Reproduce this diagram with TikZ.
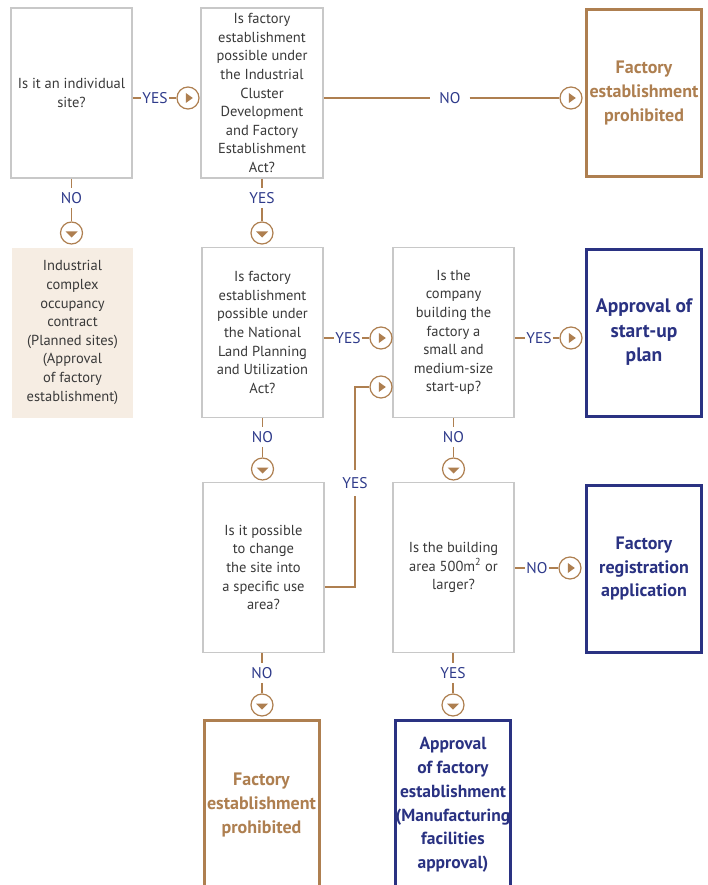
\documentclass[tikz,border=0pt]{standalone}
\usepackage{fontspec}
\setmainfont{PT Sans}
\definecolor{brn}{HTML}{AE7F50}
\definecolor{navyc}{HTML}{2A3282}
\definecolor{lblc}{HTML}{2E3A8A}
\definecolor{qgray}{HTML}{C8C8C8}
\definecolor{txt}{HTML}{3A3A3A}
\definecolor{beige}{HTML}{F6EDE3}
\begin{document}
\begin{tikzpicture}[x=1pt,y=-1pt,
 qbox/.style={draw=qgray, line width=1.5pt, fill=white, minimum width=121pt, minimum height=170pt, inner sep=0pt, align=center, text=txt, font=\fontsize{14.5}{18.6}\selectfont},
 infobox/.style={qbox, draw=none, fill=beige},
 endbrn/.style={draw=brn, line width=3pt, fill=white, minimum width=115pt, minimum height=167pt, inner sep=0pt, align=center, text=brn, font=\bfseries\fontsize{18}{23.8}\selectfont},
 endnav/.style={endbrn, draw=navyc, text=navyc},
 lbl/.style={text=lblc, font=\fontsize{15.5}{15.5}\selectfont, inner xsep=1.5pt, inner ysep=4pt},
 con/.style={draw=brn, line width=1.2pt},
 cR/.style={circle, draw=brn, line width=1.2pt, fill=white, minimum size=22pt, inner sep=0pt,
   path picture={\fill[brn] ([shift={(-2.2,-5)}]path picture bounding box.center) -- ++(0,10) -- ++(7,-5) -- cycle;}},
 cD/.style={circle, draw=brn, line width=1.2pt, fill=white, minimum size=22pt, inner sep=0pt,
   path picture={\fill[brn] ([shift={(-6,-1.5)}]path picture bounding box.center) -- ++(12,0) -- ++(-6,6) -- cycle;}}
]
\useasboundingbox (0,0) rectangle (707,885);
\clip (0,0) rectangle (707,885);

% boxes
\node[qbox] (b1) at (71.5,93) {Is it an individual\\site?};
\node[qbox, minimum width=122pt] (b2) at (262,93) {Is factory\\establishment\\possible under\\the Industrial\\Cluster\\Development\\and Factory\\Establishment\\Act?};
\node[endbrn] (b3) at (644,93) {Factory\\establishment\\prohibited};
\node[infobox] (b4) at (72.5,332.5) {Industrial\\complex\\occupancy\\contract\\(Planned sites)\\(Approval\\of factory\\establishment)};
\node[qbox] (b5) at (262.5,332.5) {Is factory\\establishment\\possible under\\the National\\Land Planning\\and Utilization\\Act?};
\node[qbox] (b6) at (453.5,332.5) {Is the\\company\\building the\\factory a\\small and\\medium-size\\start-up?};
\node[endnav, font=\bfseries\fontsize{19.5}{24.5}\selectfont] (b7) at (644,332.5) {Approval of\\start-up\\plan};
\node[qbox] (b8) at (263.5,567.5) {Is it possible\\to change\\the site into\\a specific use\\area?};
\node[qbox] (b9) at (453.5,567.5) {Is the building\\area 500m\textsuperscript{2} or\\larger?};
\node[endnav] (b10) at (644,568.5) {Factory\\registration\\application};
\node[endbrn, minimum height=169pt] (b11) at (261.5,805) {Factory\\establishment\\prohibited};
\node[endnav, minimum height=169pt, font=\bfseries\fontsize{17.5}{23.8}\selectfont] (b12) at (453,805) {Approval\\of factory\\establishment\\(Manufacturing\\facilities\\approval)};

% markers
\node[cR] (c1) at (188,98) {};
\node[cR] (c2) at (571,98) {};
\node[cD] (c3) at (71.5,233) {};
\node[cD] (c4) at (262,233) {};
\node[cR] (c5) at (381,338) {};
\node[cR] (c6) at (571,338) {};
\node[cR] (c7) at (381,387) {};
\node[cD] (c8) at (262.5,469) {};
\node[cD] (c9) at (453.5,469) {};
\node[cR] (c10) at (570,568) {};
\node[cD] (c11) at (262,705) {};
\node[cD] (c12) at (453,705) {};

% labels
\node[lbl] (l1) at (155,98) {YES};
\node[lbl, inner xsep=9pt] (l2) at (450,98) {NO};
\node[lbl] (l3) at (71.5,198) {NO};
\node[lbl] (l4) at (262,198) {YES};
\node[lbl] (l5) at (348,338) {YES};
\node[lbl] (l6) at (539,338) {YES};
\node[lbl, inner ysep=7pt] (l7) at (355,483) {YES};
\node[lbl] (l8) at (262.5,437) {NO};
\node[lbl] (l9) at (453.5,437) {NO};
\node[lbl] (l10) at (537,568) {NO};
\node[lbl] (l11) at (262,673) {NO};
\node[lbl] (l12) at (453,673) {YES};
\coordinate (k1) at (355,587);
\coordinate (k2) at (355,387);

% connectors
\draw[con] (b1.east |- l1) -- (l1.west);
\draw[con] (l1.east) -- (c1.west);
\draw[con] (b2.east |- l2) -- (l2.west);
\draw[con] (l2.east) -- (c2.west);
\draw[con] (b1.south -| l3) -- (l3.north);
\draw[con] (l3.south) -- (c3.north);
\draw[con] (b2.south -| l4) -- (l4.north);
\draw[con] (l4.south) -- (c4.north);
\draw[con] (b5.east |- l5) -- (l5.west);
\draw[con] (l5.east) -- (c5.west);
\draw[con] (b6.east |- l6) -- (l6.west);
\draw[con] (l6.east) -- (c6.west);
\draw[con] (b5.south -| l8) -- (l8.north);
\draw[con] (l8.south) -- (c8.north);
\draw[con] (b6.south -| l9) -- (l9.north);
\draw[con] (l9.south) -- (c9.north);
\draw[con] (b8.east |- k1) -- (k1) -- (l7.south);
\draw[con] (l7.north) -- (k2) -- (c7.west);
\draw[con] (b9.east |- l10) -- (l10.west);
\draw[con] (l10.east) -- (c10.west);
\draw[con] (b8.south -| l11) -- (l11.north);
\draw[con] (l11.south) -- (c11.north);
\draw[con] (b9.south -| l12) -- (l12.north);
\draw[con] (l12.south) -- (c12.north);
\end{tikzpicture}
\end{document}
